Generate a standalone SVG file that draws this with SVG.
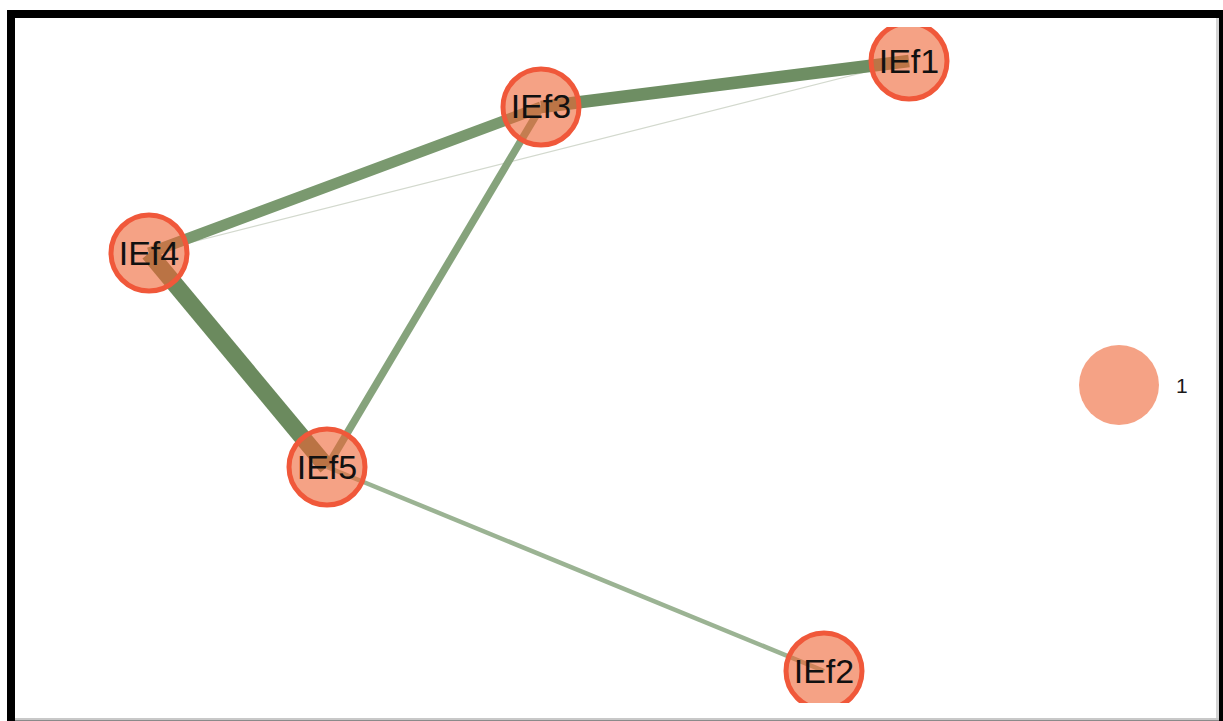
<svg xmlns="http://www.w3.org/2000/svg" width="1223" height="721" viewBox="0 0 1223 721">
  <style>
    .edge { fill: none; stroke-linecap: butt; }
    .node circle { fill: #ee6434; fill-opacity: 0.6; stroke: #f0583a; stroke-width: 5; }
    .node text { font-family: "Liberation Sans", Arial, sans-serif; font-size: 34px; fill: #111; text-anchor: middle; }
    .legend text { font-family: "Liberation Sans", Arial, sans-serif; font-size: 21px; fill: #1a1a1a; }
  </style>
  <defs>
    <clipPath id="plot">
      <rect x="15" y="27" width="1201" height="676"/>
    </clipPath>
  </defs>

  <!-- frame -->
  <rect x="0" y="0" width="1223" height="721" fill="#ffffff"/>
  <rect x="7" y="10" width="1216" height="8" fill="#000"/>
  <rect x="7" y="10" width="8" height="711" fill="#000"/>
  <rect x="1219" y="10" width="4" height="711" fill="#000"/>
  <rect x="1216" y="18" width="3" height="703" fill="#d4d4d4"/>
  <rect x="15" y="718" width="1204" height="3" fill="#c8c8c8"/>
  <rect x="15" y="720" width="1204" height="1" fill="#8a8a8a"/>

  <g clip-path="url(#plot)">
    <!-- connectors -->
    <g id="edges">
      <line class="edge" x1="149" y1="253" x2="909" y2="61" stroke="#d3d9ce" stroke-width="1.2"/>
      <line class="edge" x1="327" y1="467" x2="824" y2="671" stroke="#9bb393" stroke-width="4.5"/>
      <line class="edge" x1="541" y1="107" x2="327" y2="467" stroke="#86a37c" stroke-width="7.5"/>
      <line class="edge" x1="541" y1="107" x2="149" y2="253" stroke="#7a996f" stroke-width="11"/>
      <line class="edge" x1="541" y1="107" x2="909" y2="61" stroke="#6e8e63" stroke-width="12.5"/>
      <line class="edge" x1="149" y1="253" x2="327" y2="467" stroke="#6b8a5e" stroke-width="17"/>
    </g>

    <!-- nodes -->
    <g id="IEf1" class="node">
      <circle cx="909" cy="61" r="38"/>
      <text x="909" y="73">IEf1</text>
    </g>
    <g id="IEf2" class="node">
      <circle cx="824" cy="671" r="38"/>
      <text x="824" y="683">IEf2</text>
    </g>
    <g id="IEf3" class="node">
      <circle cx="541" cy="107" r="38"/>
      <text x="541" y="118">IEf3</text>
    </g>
    <g id="IEf4" class="node">
      <circle cx="149" cy="253" r="38"/>
      <text x="149" y="265">IEf4</text>
    </g>
    <g id="IEf5" class="node">
      <circle cx="327" cy="467" r="38"/>
      <text x="327" y="479">IEf5</text>
    </g>
  </g>

  <!-- size legend -->
  <g id="legend" class="legend">
    <circle cx="1119" cy="385" r="40" fill="#ee6434" fill-opacity="0.6"/>
    <text x="1176" y="393">1</text>
  </g>
</svg>
